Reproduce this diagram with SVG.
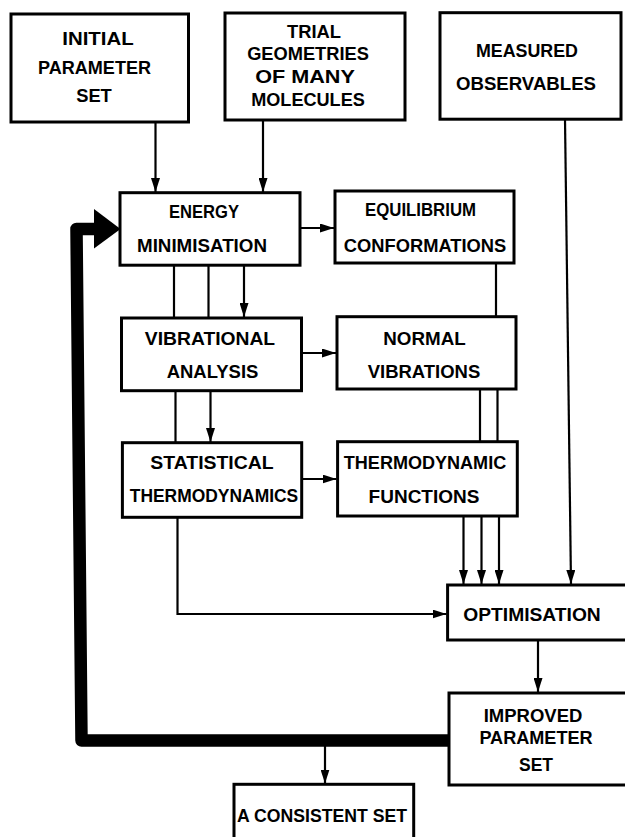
<svg xmlns="http://www.w3.org/2000/svg" width="625" height="837" viewBox="0 0 625 837">
  <defs>
    <marker id="arrow" markerUnits="userSpaceOnUse" markerWidth="14" markerHeight="9" refX="14" refY="4.5" orient="auto">
      <path d="M0,0 L14,4.5 L0,9 Z" fill="#000"/>
    </marker>
    <style>
      rect.box { fill: #fff; stroke: #000; stroke-width: 3; }
      text { font-family: "Liberation Sans", Arial, sans-serif; font-weight: bold; font-size: 19px; fill: #000; text-anchor: middle; }
      .wire { fill: none; stroke: #000; stroke-width: 2.2; }
      .thick { fill: none; stroke: #000; stroke-width: 12.5; stroke-linejoin: round; }
    </style>
  </defs>
  <rect width="625" height="837" fill="#fff"/>

  <!-- connectors -->
  <g id="connectors">
    <line class="wire" x1="155.5" y1="122" x2="155.5" y2="192" marker-end="url(#arrow)"/>
    <line class="wire" x1="263" y1="120" x2="263" y2="192" marker-end="url(#arrow)"/>
    <line class="wire" x1="300" y1="228" x2="334" y2="228" marker-end="url(#arrow)"/>
    <line class="wire" x1="174" y1="265" x2="174" y2="318"/>
    <line class="wire" x1="208.5" y1="265" x2="208.5" y2="318"/>
    <line class="wire" x1="244" y1="265" x2="244" y2="317" marker-end="url(#arrow)"/>
    <line class="wire" x1="496" y1="263" x2="496" y2="317"/>
    <line class="wire" x1="302" y1="353" x2="336" y2="353" marker-end="url(#arrow)"/>
    <line class="wire" x1="175.5" y1="391" x2="175.5" y2="443"/>
    <line class="wire" x1="210.5" y1="391" x2="210.5" y2="442" marker-end="url(#arrow)"/>
    <line class="wire" x1="480" y1="389" x2="480" y2="442"/>
    <line class="wire" x1="497.5" y1="389" x2="497.5" y2="442"/>
    <line class="wire" x1="302" y1="479" x2="336.5" y2="479" marker-end="url(#arrow)"/>
    <line class="wire" x1="463.5" y1="516" x2="463.5" y2="584" marker-end="url(#arrow)"/>
    <line class="wire" x1="481.5" y1="516" x2="481.5" y2="584" marker-end="url(#arrow)"/>
    <line class="wire" x1="499" y1="516" x2="499" y2="584" marker-end="url(#arrow)"/>
    <line class="wire" x1="565" y1="119" x2="571" y2="584" marker-end="url(#arrow)"/>
    <path class="wire" d="M177.5,517 L177.5,614 L446.5,614" marker-end="url(#arrow)"/>
    <line class="wire" x1="538" y1="640" x2="538" y2="692" marker-end="url(#arrow)"/>
    <!-- feedback loop back to energy minimisation -->
    <path class="thick" d="M449,740.5 L81.5,740.5 L76.5,229 L96,229"/>
    <polygon points="94,209 120.5,229 94,248.5" fill="#000"/>
    <line class="wire" x1="325" y1="746" x2="325" y2="783.5" marker-end="url(#arrow)"/>
  </g>

  <g id="initial-parameter-set">
    <rect class="box" x="11" y="14" width="177.5" height="108"/>
    <text x="98" y="45" textLength="71.5" lengthAdjust="spacingAndGlyphs">INITIAL</text>
    <text x="94.5" y="74" textLength="113" lengthAdjust="spacingAndGlyphs">PARAMETER</text>
    <text x="94" y="101.7" textLength="35.6" lengthAdjust="spacingAndGlyphs">SET</text>
  </g>

  <g id="trial-geometries">
    <rect class="box" x="225" y="13" width="180" height="107"/>
    <text x="314" y="38.3" textLength="54" lengthAdjust="spacingAndGlyphs">TRIAL</text>
    <text x="308" y="60" textLength="121.7" lengthAdjust="spacingAndGlyphs">GEOMETRIES</text>
    <text x="305" y="83.3" textLength="99.7" lengthAdjust="spacingAndGlyphs">OF MANY</text>
    <text x="308" y="106" textLength="113.7" lengthAdjust="spacingAndGlyphs">MOLECULES</text>
  </g>

  <g id="measured-observables">
    <rect class="box" x="440" y="12.7" width="181" height="106.5"/>
    <text x="527" y="56.7" textLength="102" lengthAdjust="spacingAndGlyphs">MEASURED</text>
    <text x="526" y="90" textLength="140" lengthAdjust="spacingAndGlyphs">OBSERVABLES</text>
  </g>

  <g id="energy-minimisation">
    <rect class="box" x="120" y="192.7" width="180" height="72.5"/>
    <text x="204" y="218.3" textLength="70" lengthAdjust="spacingAndGlyphs">ENERGY</text>
    <text x="202" y="251.7" textLength="130" lengthAdjust="spacingAndGlyphs">MINIMISATION</text>
  </g>

  <g id="equilibrium-conformations">
    <rect class="box" x="335" y="191" width="179" height="72"/>
    <text x="420.5" y="216" textLength="111" lengthAdjust="spacingAndGlyphs">EQUILIBRIUM</text>
    <text x="425" y="251.7" textLength="162.4" lengthAdjust="spacingAndGlyphs">CONFORMATIONS</text>
  </g>

  <g id="vibrational-analysis">
    <rect class="box" x="121.5" y="318" width="180" height="72.7"/>
    <text x="210" y="345" textLength="130.3" lengthAdjust="spacingAndGlyphs">VIBRATIONAL</text>
    <text x="212.5" y="377.7" textLength="91.7" lengthAdjust="spacingAndGlyphs">ANALYSIS</text>
  </g>

  <g id="normal-vibrations">
    <rect class="box" x="337" y="316.7" width="179" height="72.3"/>
    <text x="424.5" y="345" textLength="82.5" lengthAdjust="spacingAndGlyphs">NORMAL</text>
    <text x="424" y="378.3" textLength="112.5" lengthAdjust="spacingAndGlyphs">VIBRATIONS</text>
  </g>

  <g id="statistical-thermodynamics">
    <rect class="box" x="122.4" y="442.7" width="179.3" height="74.6"/>
    <text x="212" y="469.3" textLength="123.4" lengthAdjust="spacingAndGlyphs">STATISTICAL</text>
    <text x="214" y="501.7" textLength="168.5" lengthAdjust="spacingAndGlyphs">THERMODYNAMICS</text>
  </g>

  <g id="thermodynamic-functions">
    <rect class="box" x="337.6" y="441.7" width="179.7" height="74.3"/>
    <text x="425" y="469.3" textLength="162.4" lengthAdjust="spacingAndGlyphs">THERMODYNAMIC</text>
    <text x="424" y="502.7" textLength="110.8" lengthAdjust="spacingAndGlyphs">FUNCTIONS</text>
  </g>

  <g id="optimisation">
    <rect class="box" x="447.6" y="585" width="190" height="55"/>
    <text x="532" y="621" textLength="137.5" lengthAdjust="spacingAndGlyphs">OPTIMISATION</text>
  </g>

  <g id="improved-parameter-set">
    <rect class="box" x="449" y="693" width="190" height="92"/>
    <text x="533" y="721.7" textLength="98.7" lengthAdjust="spacingAndGlyphs">IMPROVED</text>
    <text x="536" y="744" textLength="113.2" lengthAdjust="spacingAndGlyphs">PARAMETER</text>
    <text x="536" y="770.7" textLength="34" lengthAdjust="spacingAndGlyphs">SET</text>
  </g>

  <g id="consistent-set">
    <rect class="box" x="234" y="784.3" width="179.7" height="70"/>
    <text x="322" y="821.7" textLength="170" lengthAdjust="spacingAndGlyphs">A CONSISTENT SET</text>
  </g>
</svg>
